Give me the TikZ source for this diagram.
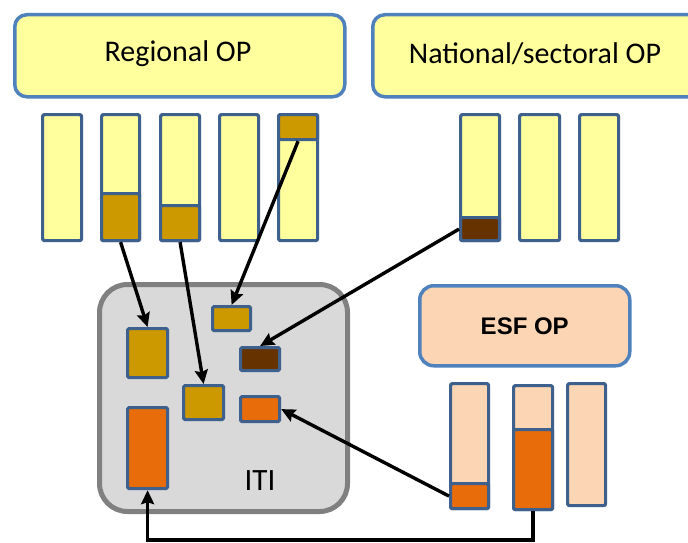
\documentclass[tikz,border=0pt]{standalone}
\usepackage{fontspec}
\setmainfont{Carlito}
\newfontfamily\esffont{Liberation Sans}
\usetikzlibrary{arrows.meta,calc}
\definecolor{opblue}{RGB}{79,129,189}
\definecolor{barblue}{RGB}{62,96,140}
\definecolor{opyellow}{RGB}{255,255,158}
\definecolor{opgold}{RGB}{204,153,0}
\definecolor{opbrown}{RGB}{102,51,0}
\definecolor{oporange}{RGB}{232,108,10}
\definecolor{oppeach}{RGB}{252,213,181}
\definecolor{itifill}{RGB}{217,217,217}
\definecolor{itiedge}{RGB}{128,128,128}
\tikzset{
  opbox/.style={draw=opblue,line width=3.5pt,rounded corners=12pt,inner sep=0pt},
  bar/.style={draw=barblue,line width=3.2pt,rounded corners=2pt,inner sep=0pt},
  share/.style={draw=barblue,line width=3.2pt,rounded corners=1.5pt,inner sep=0pt},
  flow/.style={line width=3.4pt,black,-{Stealth[length=14pt,width=13pt,inset=2pt]}},
  optitle/.style={font=\fontsize{30}{34}\selectfont},
}
% \bx{style}{name}{x1}{y1}{x2}{y2}: box given by its corners in pixel units
\newcommand\bx[6]{\node[#1,minimum width={(#5-#3)*1pt},minimum height={(#6-#4)*1pt},anchor=north west] (#2) at (#3,#4) {};}
\begin{document}
\begin{tikzpicture}[x=1pt,y=-1pt]
\useasboundingbox (0,0) rectangle (688,543);
\clip (0,0) rectangle (688,543);
\fill[white] (0,0) rectangle (688,543);

% operational programme headers
\bx{opbox,fill=opyellow}{rop}{13}{13}{343}{95}
\node[optitle] (roptxt) at (178,54) {Regional OP};
\bx{opbox,fill=opyellow}{nop}{371}{13}{700}{95}
\node[optitle] (noptxt) at (535,54) {National/sectoral OP};

% regional OP priority axes
\bx{bar,fill=opyellow}{r1}{41}{113}{80}{239}
\bx{bar,fill=opyellow}{r2}{100}{113}{138}{239}
\bx{bar,fill=opyellow}{r3}{159}{113}{198}{239}
\bx{bar,fill=opyellow}{r4}{218}{113}{257}{239}
\bx{bar,fill=opyellow}{r5}{277}{113}{316}{239}
\bx{share,fill=opgold}{r2f}{100}{192}{138}{239}
\bx{share,fill=opgold}{r3f}{159}{204}{198}{239}
\bx{share,fill=opgold}{r5f}{277}{113}{316}{138}

% national/sectoral OP priority axes
\bx{bar,fill=opyellow}{n1}{459}{113}{498}{239}
\bx{bar,fill=opyellow}{n2}{518}{113}{558}{239}
\bx{bar,fill=opyellow}{n3}{578}{113}{617}{239}
\bx{share,fill=opbrown}{n1f}{459}{216}{498}{239}

% ITI
\node[draw=itiedge,fill=itifill,line width=5pt,rounded corners=28pt,inner sep=0pt,
  minimum width=248pt,minimum height=227pt,anchor=north west] (iti) at (97,282) {};
\node[font=\fontsize{31}{34}\selectfont] (ititxt) at (260,481) {ITI};
\bx{share,fill=opgold}{A}{126}{327}{166}{376}
\bx{share,fill=opgold}{B}{211}{305}{249}{329}
\bx{share,fill=opbrown}{C}{239}{346}{278}{369}
\bx{share,fill=opgold}{D}{182}{384}{222}{418}
\bx{share,fill=oporange}{E}{239}{395}{278}{420}
\bx{share,fill=oporange}{F}{126}{406}{166}{487}

% ESF OP
\bx{opbox,fill=oppeach,rounded corners=14pt}{esf}{418}{284}{628}{364}
\node[font=\esffont\bfseries\fontsize{24}{28}\selectfont] (esftxt) at (esf.center) {ESF OP};
\bx{bar,fill=oppeach}{e1}{449}{382}{487}{507}
\bx{bar,fill=oppeach}{e2}{512}{384}{551}{508}
\bx{bar,fill=oppeach}{e3}{566}{382}{604}{504}
\bx{share,fill=oporange}{e1f}{449}{482}{487}{507}
\bx{share,fill=oporange}{e2f}{512}{428}{551}{508}

% allocations into the ITI
\draw[flow] (r2f.south) -- (A.north);
\draw[flow] (r3f.south) -- (D.north);
\draw[flow] (r5f.south) -- (B.north);
\draw[flow] (n1f.west) -- (C.north);
\draw[flow] (e1f.west) -- (E.east);
\coordinate (low) at (0,540);
\draw[flow] (e2f.south) -- (e2f.south |- low) -| (F.south);
\end{tikzpicture}
\end{document}
